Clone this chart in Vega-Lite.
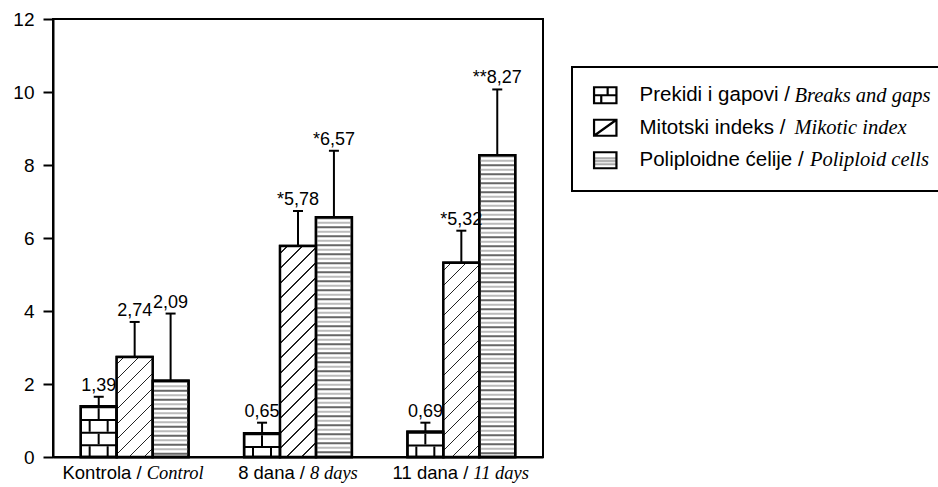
{
  "$schema": "https://vega.github.io/schema/vega-lite/v6.json",
  "width": 490,
  "height": 438,
  "autosize": {"type": "none"},
  "padding": {"left": 53, "top": 19, "right": 395, "bottom": 30},
  "background": "white",
  "config": {
    "font": "Liberation Sans",
    "view": {"stroke": "black", "strokeWidth": 2},
    "axis": {"grid": false, "domainColor": "black", "domainWidth": 2, "tickColor": "black", "tickWidth": 2, "labelColor": "black", "labelFont": "Liberation Sans"},
    "legend": {"strokeWidth": 2}
  },
  "params": [
    {"name": "hatchStops", "value": [
      {"offset": 0, "color": "#fff"},
      {"offset": 0.0256, "color": "#fff"}, {"offset": 0.0256, "color": "#222"}, {"offset": 0.0300, "color": "#222"}, {"offset": 0.0300, "color": "#fff"},
      {"offset": 0.0811, "color": "#fff"}, {"offset": 0.0811, "color": "#222"}, {"offset": 0.0855, "color": "#222"}, {"offset": 0.0855, "color": "#fff"},
      {"offset": 0.1367, "color": "#fff"}, {"offset": 0.1367, "color": "#222"}, {"offset": 0.1411, "color": "#222"}, {"offset": 0.1411, "color": "#fff"},
      {"offset": 0.1922, "color": "#fff"}, {"offset": 0.1922, "color": "#222"}, {"offset": 0.1966, "color": "#222"}, {"offset": 0.1966, "color": "#fff"},
      {"offset": 0.2478, "color": "#fff"}, {"offset": 0.2478, "color": "#222"}, {"offset": 0.2522, "color": "#222"}, {"offset": 0.2522, "color": "#fff"},
      {"offset": 0.3034, "color": "#fff"}, {"offset": 0.3034, "color": "#222"}, {"offset": 0.3078, "color": "#222"}, {"offset": 0.3078, "color": "#fff"},
      {"offset": 0.3589, "color": "#fff"}, {"offset": 0.3589, "color": "#222"}, {"offset": 0.3633, "color": "#222"}, {"offset": 0.3633, "color": "#fff"},
      {"offset": 0.4145, "color": "#fff"}, {"offset": 0.4145, "color": "#222"}, {"offset": 0.4189, "color": "#222"}, {"offset": 0.4189, "color": "#fff"},
      {"offset": 0.4700, "color": "#fff"}, {"offset": 0.4700, "color": "#222"}, {"offset": 0.4744, "color": "#222"}, {"offset": 0.4744, "color": "#fff"},
      {"offset": 0.5256, "color": "#fff"}, {"offset": 0.5256, "color": "#222"}, {"offset": 0.5300, "color": "#222"}, {"offset": 0.5300, "color": "#fff"},
      {"offset": 0.5811, "color": "#fff"}, {"offset": 0.5811, "color": "#222"}, {"offset": 0.5855, "color": "#222"}, {"offset": 0.5855, "color": "#fff"},
      {"offset": 0.6367, "color": "#fff"}, {"offset": 0.6367, "color": "#222"}, {"offset": 0.6411, "color": "#222"}, {"offset": 0.6411, "color": "#fff"},
      {"offset": 0.6922, "color": "#fff"}, {"offset": 0.6922, "color": "#222"}, {"offset": 0.6966, "color": "#222"}, {"offset": 0.6966, "color": "#fff"},
      {"offset": 0.7478, "color": "#fff"}, {"offset": 0.7478, "color": "#222"}, {"offset": 0.7522, "color": "#222"}, {"offset": 0.7522, "color": "#fff"},
      {"offset": 0.8034, "color": "#fff"}, {"offset": 0.8034, "color": "#222"}, {"offset": 0.8078, "color": "#222"}, {"offset": 0.8078, "color": "#fff"},
      {"offset": 0.8589, "color": "#fff"}, {"offset": 0.8589, "color": "#222"}, {"offset": 0.8633, "color": "#222"}, {"offset": 0.8633, "color": "#fff"},
      {"offset": 0.9145, "color": "#fff"}, {"offset": 0.9145, "color": "#222"}, {"offset": 0.9189, "color": "#222"}, {"offset": 0.9189, "color": "#fff"},
      {"offset": 0.9700, "color": "#fff"}, {"offset": 0.9700, "color": "#222"}, {"offset": 0.9744, "color": "#222"}, {"offset": 0.9744, "color": "#fff"},
      {"offset": 1, "color": "#fff"}
    ]}
  ],
  "datasets": {
    "bars": [
      {"g": "Kontrola", "sr": "Prekidi i gapovi /", "en": "Breaks and gaps", "value": 1.39, "err": 1.65, "label": "1,39"},
      {"g": "Kontrola", "sr": "Mitotski indeks /", "en": "Mikotic index", "value": 2.74, "err": 3.70, "label": "2,74"},
      {"g": "Kontrola", "sr": "Poliploidne ćelije /", "en": "Poliploid cells", "value": 2.09, "err": 3.93, "label": "2,09"},
      {"g": "8 dana", "sr": "Prekidi i gapovi /", "en": "Breaks and gaps", "value": 0.65, "err": 0.94, "label": "0,65"},
      {"g": "8 dana", "sr": "Mitotski indeks /", "en": "Mikotic index", "value": 5.78, "err": 6.74, "label": "*5,78"},
      {"g": "8 dana", "sr": "Poliploidne ćelije /", "en": "Poliploid cells", "value": 6.57, "err": 8.39, "label": "*6,57"},
      {"g": "11 dana", "sr": "Prekidi i gapovi /", "en": "Breaks and gaps", "value": 0.69, "err": 0.94, "label": "0,69"},
      {"g": "11 dana", "sr": "Mitotski indeks /", "en": "Mikotic index", "value": 5.32, "err": 6.20, "label": "*5,32"},
      {"g": "11 dana", "sr": "Poliploidne ćelije /", "en": "Poliploid cells", "value": 8.27, "err": 10.07, "label": "**8,27"}
    ],
    "groups": [
      {"g": "Kontrola", "gl": "Kontrola /", "gi": "Control"},
      {"g": "8 dana", "gl": "8 dana /", "gi": "8 days"},
      {"g": "11 dana", "gl": "11 dana /", "gi": "11 days"}
    ]
  },
  "data": {"name": "bars"},
  "layer": [
    {
      "mark": {"type": "bar", "strokeWidth": 2.4},
      "encoding": {
        "x": {"field": "g", "type": "nominal", "scale": {"domain": ["Kontrola", "8 dana", "11 dana"], "paddingInner": 0.34, "paddingOuter": 0.17}, "axis": {"labels": false, "ticks": false, "title": null}},
        "xOffset": {"field": "sr", "type": "nominal", "scale": {"domain": ["Prekidi i gapovi /", "Mitotski indeks /", "Poliploidne ćelije /"], "paddingInner": 0, "paddingOuter": 0}},
        "y": {"field": "value", "type": "quantitative", "scale": {"domain": [0, 12], "nice": false}, "axis": {"values": [0, 2, 4, 6, 8, 10, 12], "title": null, "tickSize": 10, "labelFontSize": 19, "labelPadding": 9}},
        "fill": {"field": "en", "type": "nominal", "scale": {"domain": ["Breaks and gaps", "Mikotic index", "Poliploid cells"], "range": ["white", "white", "white"]},
          "legend": {"title": null, "orient": "none", "legendX": 721, "legendY": 67, "padding": 0, "symbolSize": 0, "symbolStrokeWidth": 0, "symbolOpacity": 0, "labelOffset": 0, "labelFont": "Liberation Serif", "labelFontStyle": "italic", "labelFontSize": 20.5, "labelColor": "black", "rowPadding": 11, "labelLimit": 400, "labelBaseline": "middle",
            "labelExpr": "datum.label === 'Poliploid cells' ? '\u200b\u00a0\u00a0\u00a0' + datum.label : datum.label"}},
        "stroke": {"field": "sr", "type": "nominal", "scale": {"domain": ["Prekidi i gapovi /", "Mitotski indeks /", "Poliploidne ćelije /"], "range": ["black", "black", "black"]},
          "legend": {"title": null, "orient": "none", "legendX": 519, "legendY": 48, "padding": 18, "strokeColor": "black",
            "symbolSize": 256, "symbolStrokeWidth": 2.2, "symbolStrokeColor": "black", "symbolOffset": 5,
            "symbolType": {"expr": "datum.value === 'Prekidi i gapovi /' ? 'M-1.4,-1H1.4V1H-1.4Z M-1.4,0H1.4 M0.3,-1V0 M-0.5,0V1' : datum.value === 'Mitotski indeks /' ? 'M-1.4,-1H1.4V1H-1.4Z M-1.4,1L1.4,-1' : 'M-1.4,-1H1.4V1H-1.4Z'"},
            "symbolFillColor": {"expr": "datum.value === 'Poliploidne ćelije /' ? {gradient: 'linear', x1: 0, y1: 0, x2: 0, y2: 1, stops: [{offset: 0, color: '#fff'}, {offset: 0.3, color: '#fff'}, {offset: 0.35, color: '#888'}, {offset: 0.45, color: '#ddd'}, {offset: 0.55, color: '#999'}, {offset: 0.65, color: '#eee'}, {offset: 0.75, color: '#999'}, {offset: 0.85, color: '#fff'}, {offset: 1, color: '#fff'}]} : 'white'"},
            "labelOffset": 24, "labelFont": "Liberation Sans", "labelFontSize": 20.5, "labelColor": "black", "rowPadding": 6.5, "labelLimit": 700, "labelBaseline": "middle",
            "labelExpr": "datum.label + '\u00a0\u00a0\u00a0\u00a0\u00a0\u00a0\u00a0\u00a0\u00a0\u00a0\u00a0\u00a0\u00a0\u00a0\u00a0\u00a0\u00a0\u00a0\u00a0\u00a0\u00a0\u00a0\u00a0\u00a0\u200b'"}}
      }
    },
    {
      "transform": [{"filter": "datum.sr === 'Mitotski indeks /'"}],
      "mark": {"type": "bar", "strokeWidth": 0},
      "encoding": {
        "x": {"field": "g", "type": "nominal"},
        "xOffset": {"field": "sr", "type": "nominal"},
        "y": {"field": "value", "type": "quantitative"},
        "fill": {"value": {"expr": "{gradient: 'linear', x1: 0, y1: 0, x2: 270*36/(1296+pow(datum.value*36.5,2)), y2: 270*datum.value*36.5/(1296+pow(datum.value*36.5,2)), stops: hatchStops}"}}
      }
    },
    {
      "transform": [{"filter": "datum.sr === 'Prekidi i gapovi /'"}],
      "mark": {"type": "rule", "strokeWidth": 36, "color": "black", "strokeDash": [2, 10.7]},
      "encoding": {
        "x": {"field": "g", "type": "nominal"},
        "xOffset": {"field": "sr", "type": "nominal"},
        "y": {"field": "value", "type": "quantitative"},
        "y2": {"datum": 0}
      }
    },
    {
      "transform": [{"filter": "datum.sr === 'Prekidi i gapovi /'"}],
      "mark": {"type": "rule", "strokeWidth": 2, "color": "black", "xOffset": -36, "strokeDash": [0, 2, 10.7, 12.7]},
      "encoding": {
        "x": {"field": "g", "type": "nominal"},
        "y": {"field": "value", "type": "quantitative"},
        "y2": {"datum": 0}
      }
    },
    {
      "transform": [{"filter": "datum.sr === 'Prekidi i gapovi /'"}],
      "mark": {"type": "rule", "strokeWidth": 2, "color": "black", "xOffset": -45, "strokeDash": [0, 14.7, 10.7, 0]},
      "encoding": {
        "x": {"field": "g", "type": "nominal"},
        "y": {"field": "value", "type": "quantitative"},
        "y2": {"datum": 0}
      }
    },
    {
      "transform": [{"filter": "datum.sr === 'Prekidi i gapovi /'"}],
      "mark": {"type": "rule", "strokeWidth": 2, "color": "black", "xOffset": -27, "strokeDash": [0, 14.7, 10.7, 0]},
      "encoding": {
        "x": {"field": "g", "type": "nominal"},
        "y": {"field": "value", "type": "quantitative"},
        "y2": {"datum": 0}
      }
    },
    {
      "transform": [{"filter": "datum.sr === 'Poliploidne ćelije /'"}],
      "mark": {"type": "rule", "strokeWidth": 36, "color": "#666", "strokeDash": [2, 7]},
      "encoding": {
        "x": {"field": "g", "type": "nominal"},
        "xOffset": {"field": "sr", "type": "nominal"},
        "y": {"field": "value", "type": "quantitative"},
        "y2": {"datum": 0}
      }
    },
    {
      "transform": [{"filter": "datum.sr === 'Poliploidne ćelije /'"}],
      "mark": {"type": "rule", "strokeWidth": 36, "color": "#bbb", "strokeDash": [2, 7], "strokeDashOffset": -4.5},
      "encoding": {
        "x": {"field": "g", "type": "nominal"},
        "xOffset": {"field": "sr", "type": "nominal"},
        "y": {"field": "value", "type": "quantitative"},
        "y2": {"datum": 0}
      }
    },
    {
      "mark": {"type": "bar", "fill": "transparent", "stroke": "black", "strokeWidth": 2.4},
      "encoding": {
        "x": {"field": "g", "type": "nominal"},
        "xOffset": {"field": "sr", "type": "nominal"},
        "y": {"field": "value", "type": "quantitative"}
      }
    },
    {
      "mark": {"type": "rule", "strokeWidth": 2, "color": "black"},
      "encoding": {
        "x": {"field": "g", "type": "nominal"},
        "xOffset": {"field": "sr", "type": "nominal"},
        "y": {"field": "value", "type": "quantitative"},
        "y2": {"field": "err"}
      }
    },
    {
      "mark": {"type": "tick", "orient": "horizontal", "thickness": 2, "size": 10, "color": "black", "opacity": 1},
      "encoding": {
        "x": {"field": "g", "type": "nominal"},
        "xOffset": {"field": "sr", "type": "nominal"},
        "y": {"field": "err", "type": "quantitative"}
      }
    },
    {
      "mark": {"type": "text", "baseline": "alphabetic", "dy": -6, "fontSize": 18, "color": "black"},
      "encoding": {
        "x": {"field": "g", "type": "nominal"},
        "xOffset": {"field": "sr", "type": "nominal"},
        "y": {"field": "err", "type": "quantitative"},
        "text": {"field": "label"}
      }
    },
    {
      "data": {"name": "groups"},
      "mark": {"type": "text", "align": "right", "baseline": "top", "dx": 7, "dy": 7, "fontSize": 18.5, "color": "black"},
      "encoding": {
        "x": {"field": "g", "type": "nominal"},
        "y": {"datum": 0, "type": "quantitative"},
        "text": {"field": "gl"}
      }
    },
    {
      "data": {"name": "groups"},
      "mark": {"type": "text", "align": "left", "baseline": "top", "dx": 12, "dy": 7, "fontSize": 18.5, "font": "Liberation Serif", "fontStyle": "italic", "color": "black"},
      "encoding": {
        "x": {"field": "g", "type": "nominal"},
        "y": {"datum": 0, "type": "quantitative"},
        "text": {"field": "gi"}
      }
    }
  ]
}
